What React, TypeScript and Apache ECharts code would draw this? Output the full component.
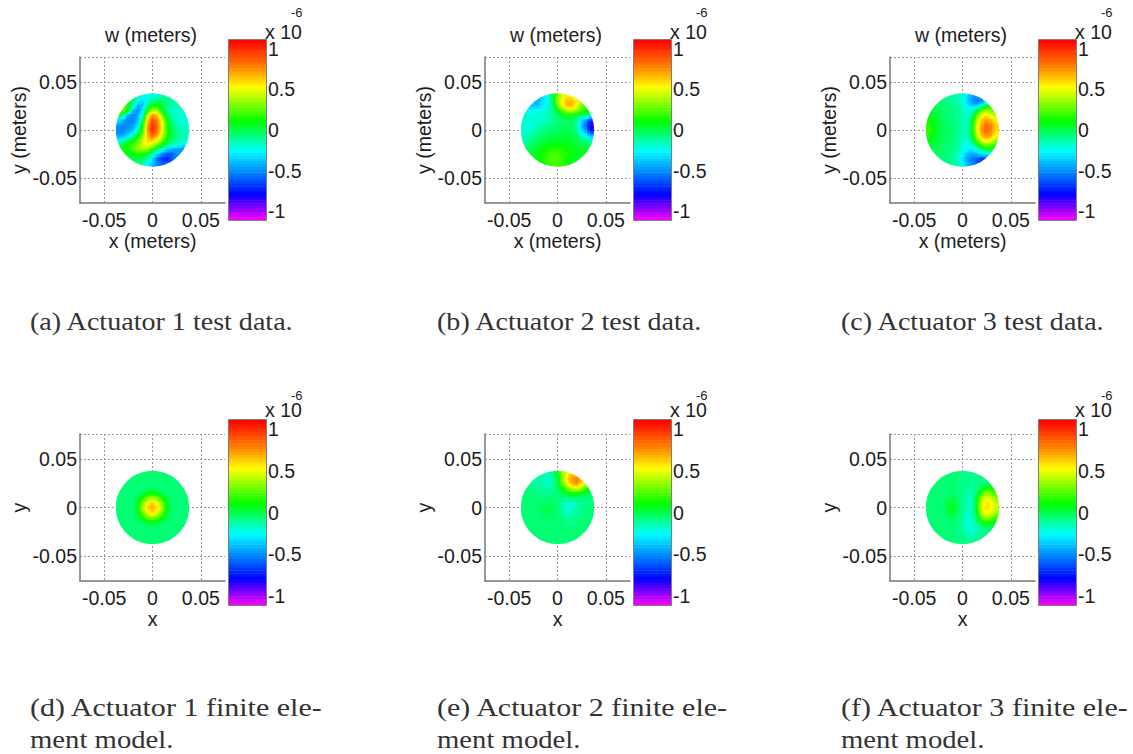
import React, { useEffect, useRef } from "react";
import * as echarts from "echarts";

// Surface readings, 1e-6 m. Rows y = +0.035 .. -0.035, columns x = -0.035 .. 0.035, step 0.005.
const nodeCoords = [-0.035, -0.03, -0.025, -0.02, -0.015, -0.01, -0.005, 0, 0.005, 0.01, 0.015, 0.02, 0.025, 0.03, 0.035];
const panelA = [
  [.1,.1,.05,0,-.1,-.22,-.22,-.22,-.18,-.13,-.1,-.1,-.1,-.1,-.1],
  [.2,.15,.05,-.05,-.28,-.36,-.22,-.08,-.03,-.03,-.08,-.12,-.12,-.12,-.12],
  [.3,.25,.15,-.1,-.45,-.36,-.08,.12,.14,.02,-.08,-.14,-.15,-.15,-.15],
  [.3,.3,.05,-.4,-.5,-.3,.12,.42,.38,.14,-.08,-.18,-.2,-.2,-.2],
  [.1,-.1,-.45,-.52,-.45,-.15,.45,.78,.7,.35,.03,-.13,-.18,-.2,-.2],
  [-.3,-.45,-.52,-.52,-.4,-.05,.6,.95,.8,.5,.14,-.08,-.18,-.2,-.2],
  [-.48,-.52,-.52,-.48,-.3,.12,.7,1.02,.85,.55,.2,-.03,-.13,-.18,-.2],
  [-.52,-.52,-.48,-.4,-.15,.18,.72,1.02,.85,.55,.2,.02,-.08,-.14,-.15],
  [-.48,-.45,-.35,-.2,.02,.3,.68,.9,.75,.48,.18,.02,-.08,-.14,-.15],
  [-.3,-.22,-.08,.07,.22,.42,.62,.7,.55,.33,.12,-.03,-.08,-.14,-.15],
  [-.13,.02,.12,.22,.32,.48,.56,.47,.32,.13,-.03,-.13,-.18,-.23,-.28],
  [.1,.12,.17,.22,.32,.37,.36,.18,-.02,-.17,-.32,-.42,-.46,-.46,-.46],
  [.06,.06,.06,.12,.17,.17,.07,-.12,-.32,-.5,-.6,-.6,-.5,-.46,-.46],
  [0,0,0,.02,.02,-.03,-.13,-.32,-.55,-.7,-.75,-.62,-.55,-.5,-.5],
  [-.1,-.1,-.1,-.08,-.08,-.13,-.23,-.38,-.5,-.6,-.58,-.58,-.5,-.5,-.5],
];
const panelB = [
  [-.38,-.38,-.38,-.38,-.33,-.22,-.03,.3,.48,.55,.55,.45,.42,.4,.4],
  [-.38,-.38,-.38,-.42,-.33,-.22,-.08,.35,.55,.68,.7,.58,.42,.32,.3],
  [-.38,-.38,-.38,-.38,-.28,-.22,-.08,.25,.5,.65,.68,.52,.3,.22,.2],
  [-.26,-.26,-.26,-.22,-.22,-.18,-.1,.04,.25,.4,.45,.35,.22,.12,.1],
  [-.17,-.18,-.2,-.2,-.18,-.15,-.1,-.05,.03,.08,.08,.03,-.03,-.08,-.18],
  [-.18,-.2,-.2,-.2,-.17,-.15,-.1,-.07,-.04,-.03,-.03,-.08,-.32,-.52,-.7],
  [-.2,-.2,-.18,-.16,-.13,-.1,-.07,-.05,-.03,-.02,-.04,-.12,-.38,-.58,-.85],
  [-.2,-.18,-.15,-.11,-.08,-.06,-.04,-.02,-.01,0,-.02,-.1,-.32,-.52,-.8],
  [-.18,-.16,-.11,-.08,-.05,-.02,0,.01,.03,.03,0,-.05,-.18,-.32,-.48],
  [-.16,-.12,-.07,-.04,0,.03,.04,.05,.05,.05,.03,0,-.05,-.12,-.18],
  [-.12,-.07,-.02,.01,.05,.08,.1,.11,.1,.08,.06,.03,0,-.02,-.05],
  [-.03,-.03,.03,.06,.1,.13,.16,.16,.15,.13,.1,.08,.05,.04,.04],
  [.05,.05,.05,.08,.13,.18,.23,.23,.18,.15,.11,.08,.05,.05,.05],
  [.08,.08,.08,.09,.15,.21,.25,.23,.18,.13,.08,.05,.05,.05,.05],
  [.1,.1,.1,.1,.12,.18,.23,.23,.18,.13,.08,.05,.05,.05,.05],
];
const panelC = [
  [-.1,-.1,-.1,-.12,-.12,-.12,-.15,-.2,-.3,-.45,-.5,-.5,-.45,-.4,-.4],
  [-.05,-.05,-.05,-.07,-.08,-.1,-.12,-.2,-.35,-.5,-.55,-.5,-.3,-.1,-.1],
  [0,0,-.03,-.05,-.07,-.08,-.1,-.17,-.28,-.35,-.35,-.2,.05,.12,.12],
  [.03,.03,-.02,-.04,-.06,-.07,-.1,-.15,-.2,-.18,0,.3,.4,.35,.25],
  [.08,.05,0,-.03,-.05,-.07,-.09,-.13,-.18,-.08,.25,.52,.58,.5,.4],
  [.12,.08,.02,-.02,-.04,-.06,-.09,-.13,-.16,.03,.4,.65,.75,.68,.55],
  [.17,.1,.03,-.01,-.04,-.06,-.09,-.14,-.16,.08,.48,.72,.85,.78,.6],
  [.2,.12,.04,0,-.03,-.05,-.09,-.14,-.16,.08,.48,.74,.88,.8,.6],
  [.17,.1,.03,-.01,-.03,-.05,-.09,-.15,-.17,.05,.44,.7,.8,.72,.55],
  [.12,.07,.02,-.02,-.04,-.06,-.1,-.16,-.19,-.05,.28,.52,.62,.55,.4],
  [.05,.03,0,-.03,-.05,-.07,-.11,-.18,-.24,-.16,.04,.25,.35,.3,.2],
  [0,0,-.02,-.04,-.06,-.08,-.12,-.2,-.28,-.3,-.18,-.03,.05,.03,0],
  [-.03,-.03,-.03,-.05,-.07,-.09,-.14,-.25,-.38,-.42,-.4,-.3,-.25,-.2,-.2],
  [-.05,-.05,-.05,-.06,-.08,-.1,-.17,-.3,-.45,-.55,-.6,-.7,-.7,-.7,-.7],
  [-.07,-.07,-.07,-.08,-.08,-.1,-.15,-.25,-.4,-.5,-.6,-.7,-.7,-.7,-.7],
];
const panelD = [
  [-.07,-.07,-.07,-.07,-.07,-.07,-.07,-.07,-.07,-.07,-.07,-.07,-.07,-.07,-.07],
  [-.07,-.07,-.07,-.07,-.07,-.07,-.07,-.07,-.07,-.07,-.07,-.07,-.07,-.07,-.07],
  [-.07,-.07,-.07,-.07,-.07,-.07,-.07,-.07,-.07,-.07,-.07,-.07,-.07,-.07,-.07],
  [-.07,-.07,-.07,-.07,-.07,-.07,-.05,-.03,-.05,-.07,-.07,-.07,-.07,-.07,-.07],
  [-.07,-.07,-.07,-.07,-.05,0,.06,.1,.06,0,-.05,-.07,-.07,-.07,-.07],
  [-.07,-.07,-.07,-.07,0,.14,.3,.38,.3,.14,0,-.07,-.07,-.07,-.07],
  [-.07,-.07,-.07,-.05,.06,.3,.5,.6,.5,.3,.06,-.05,-.07,-.07,-.07],
  [-.07,-.07,-.07,-.03,.1,.38,.6,.72,.6,.38,.1,-.03,-.07,-.07,-.07],
  [-.07,-.07,-.07,-.05,.06,.3,.5,.6,.5,.3,.06,-.05,-.07,-.07,-.07],
  [-.07,-.07,-.07,-.07,0,.14,.3,.38,.3,.14,0,-.07,-.07,-.07,-.07],
  [-.07,-.07,-.07,-.07,-.05,0,.06,.1,.06,0,-.05,-.07,-.07,-.07,-.07],
  [-.07,-.07,-.07,-.07,-.07,-.07,-.05,-.03,-.05,-.07,-.07,-.07,-.07,-.07,-.07],
  [-.07,-.07,-.07,-.07,-.07,-.07,-.07,-.07,-.07,-.07,-.07,-.07,-.07,-.07,-.07],
  [-.07,-.07,-.07,-.07,-.07,-.07,-.07,-.07,-.07,-.07,-.07,-.07,-.07,-.07,-.07],
  [-.07,-.07,-.07,-.07,-.07,-.07,-.07,-.07,-.07,-.07,-.07,-.07,-.07,-.07,-.07],
];
const panelE = [
  [-.15,-.15,-.15,-.15,-.15,-.15,-.1,.05,.35,.52,.62,.65,.58,.48,.4],
  [-.1,-.1,-.1,-.13,-.15,-.17,-.14,0,.35,.58,.75,.82,.68,.45,.3],
  [-.1,-.1,-.1,-.12,-.15,-.16,-.13,-.02,.28,.5,.7,.78,.62,.4,.22],
  [-.07,-.07,-.08,-.1,-.12,-.13,-.1,-.04,.12,.3,.45,.5,.38,.2,.1],
  [-.06,-.06,-.07,-.08,-.09,-.1,-.08,-.05,0,.08,.16,.18,.1,.03,-.02],
  [-.05,-.05,-.05,-.05,-.06,-.06,-.05,-.06,-.07,-.08,-.06,-.05,-.06,-.07,-.07],
  [-.04,-.04,-.04,-.04,-.03,-.02,-.03,-.06,-.12,-.17,-.18,-.13,-.09,-.08,-.07],
  [-.05,-.05,-.04,-.03,-.02,0,0,-.05,-.13,-.2,-.2,-.13,-.09,-.07,-.07],
  [-.06,-.06,-.05,-.04,-.02,0,-.01,-.05,-.11,-.16,-.16,-.12,-.08,-.07,-.07],
  [-.07,-.07,-.06,-.05,-.04,-.03,-.03,-.05,-.08,-.11,-.11,-.09,-.07,-.07,-.07],
  [-.07,-.07,-.07,-.06,-.06,-.05,-.05,-.06,-.07,-.08,-.08,-.07,-.07,-.07,-.07],
  [-.07,-.07,-.07,-.07,-.07,-.06,-.06,-.07,-.07,-.07,-.07,-.07,-.07,-.07,-.07],
  [-.07,-.07,-.07,-.07,-.07,-.07,-.07,-.07,-.07,-.07,-.07,-.07,-.07,-.07,-.07],
  [-.07,-.07,-.07,-.07,-.07,-.07,-.07,-.07,-.07,-.07,-.07,-.07,-.07,-.07,-.07],
  [-.07,-.07,-.07,-.07,-.07,-.07,-.07,-.07,-.07,-.07,-.07,-.07,-.07,-.07,-.07],
];
const panelF = [
  [-.07,-.07,-.07,-.07,-.07,-.07,-.07,-.08,-.09,-.09,-.09,-.08,-.07,-.07,-.07],
  [-.07,-.07,-.07,-.07,-.07,-.07,-.07,-.08,-.09,-.1,-.1,-.08,-.07,-.07,-.07],
  [-.07,-.07,-.07,-.07,-.07,-.07,-.07,-.08,-.1,-.11,-.1,-.07,-.04,-.02,-.02],
  [-.07,-.07,-.07,-.07,-.07,-.07,-.07,-.08,-.1,-.12,-.07,.02,.1,.14,.1],
  [-.07,-.07,-.07,-.07,-.06,-.05,-.06,-.09,-.13,-.14,-.04,.2,.34,.3,.18],
  [-.07,-.07,-.07,-.05,-.03,0,-.04,-.1,-.14,-.15,.04,.38,.5,.45,.34],
  [-.07,-.07,-.06,-.04,0,.07,-.02,-.1,-.15,-.16,.08,.47,.58,.55,.42],
  [-.07,-.07,-.05,-.03,.02,.1,0,-.1,-.16,-.16,.1,.5,.6,.56,.44],
  [-.07,-.07,-.06,-.04,0,.06,-.02,-.1,-.17,-.17,.07,.44,.55,.5,.38],
  [-.07,-.07,-.07,-.05,-.04,-.01,-.05,-.11,-.18,-.18,-.01,.28,.4,.33,.22],
  [-.07,-.07,-.07,-.06,-.05,-.05,-.07,-.12,-.19,-.2,-.08,.08,.18,.13,.05],
  [-.07,-.07,-.07,-.07,-.06,-.06,-.08,-.12,-.2,-.2,-.13,-.06,-.01,0,0],
  [-.07,-.07,-.07,-.07,-.07,-.07,-.08,-.1,-.18,-.2,-.15,-.12,-.1,-.08,-.07],
  [-.07,-.07,-.07,-.07,-.07,-.07,-.07,-.09,-.12,-.13,-.11,-.09,-.08,-.07,-.07],
  [-.07,-.07,-.07,-.07,-.07,-.07,-.07,-.08,-.09,-.09,-.08,-.07,-.07,-.07,-.07],
];

const plotTickLabels = [-0.05, 0, 0.05];
const plotTickLines = [-0.05, 0, 0.05];
const colorbarTicks = [-1, -0.5, 0, 0.5, 1];
const colorStops: [number, number[]][] = [
  [-1.11, [255, 0, 255]],
  [-0.79, [0, 0, 255]],
  [-0.53, [0, 128, 255]],
  [-0.25, [0, 255, 255]],
  [0.11, [0, 255, 0]],
  [0.53, [255, 255, 0]],
  [0.79, [255, 128, 0]],
  [1.11, [255, 0, 0]],
];
const titleText = "w (meters)";
const exponentBase = "x 10";
const exponentPower = "-6";
const panelValues = [panelA, panelB, panelC, panelD, panelE, panelF];
const xNames = ["x (meters)", "x (meters)", "x (meters)", "x", "x", "x"];
const yNames = ["y (meters)", "y (meters)", "y (meters)", "y", "y", "y"];
const captions = [
  ["(a) Actuator 1 test data."],
  ["(b) Actuator 2 test data."],
  ["(c) Actuator 3 test data."],
  ["(d) Actuator 1 finite ele-", "ment model."],
  ["(e) Actuator 2 finite ele-", "ment model."],
  ["(f) Actuator 3 finite ele-", "ment model."],
];

const LEVELS = 64;
const RANGE = 1.11;
const DISC_R = 0.0378;
const STEP = 0.005;
const SUB = 3;
const SANS = "'Liberation Sans', Arial, sans-serif";
const SERIF = "'Liberation Serif', 'Times New Roman', serif";
const INK = "#1c1c1c";
const DOTS = { type: [2, 2], color: "#999", width: 1 };

function colorOf(raw: number): string {
  const lv = Math.round(((Math.max(-RANGE, Math.min(RANGE, raw)) + RANGE) / (2 * RANGE)) * (LEVELS - 1));
  const v = -RANGE + ((lv + 0.5) / LEVELS) * 2 * RANGE;
  for (let k = 0; k < colorStops.length - 1; k++) {
    const [a, ca] = colorStops[k];
    const [b, cb] = colorStops[k + 1];
    if (v <= b) {
      const t = (v - a) / (b - a);
      const c = ca.map((p, n) => Math.round(p + (cb[n] - p) * t));
      return `rgb(${c[0]},${c[1]},${c[2]})`;
    }
  }
  return "rgb(255,0,0)";
}

// Gouraud-like shading of the read matrix, as a surface plot with interpolated shading does.
function shade(m: number[][], x: number, y: number): number {
  const n = nodeCoords.length - 1;
  const fi = Math.max(0, Math.min(n, (x - nodeCoords[0]) / STEP));
  const fj = Math.max(0, Math.min(n, (nodeCoords[n] - y) / STEP));
  const i0 = Math.min(n - 1, Math.floor(fi));
  const j0 = Math.min(n - 1, Math.floor(fj));
  const a = fi - i0;
  const b = fj - j0;
  return (
    m[j0][i0] * (1 - a) * (1 - b) + m[j0][i0 + 1] * a * (1 - b) + m[j0 + 1][i0] * (1 - a) * b + m[j0 + 1][i0 + 1] * a * b
  );
}

function surfaceItem(m: number[][]) {
  return (_p: any, api: any) => {
    const x = api.value(0);
    const y = api.value(1);
    const half = STEP * 0.5 * (Math.abs(x) > 0.034 || Math.abs(y) > 0.034 ? 1.3 : 1);
    const c = api.coord([0, 0]);
    const e = api.coord([DISC_R, 0]);
    const children: any[] = [];
    for (let a = 0; a < SUB; a++) {
      for (let b = 0; b < SUB; b++) {
        const x0 = x - half + (2 * half * a) / SUB;
        const x1 = x - half + (2 * half * (a + 1)) / SUB;
        const y1 = y + half - (2 * half * b) / SUB;
        const y0 = y + half - (2 * half * (b + 1)) / SUB;
        const p0 = api.coord([x0, y1]);
        const p1 = api.coord([x1, y0]);
        children.push({
          type: "rect",
          shape: { x: p0[0] - 0.2, y: p0[1] - 0.2, width: p1[0] - p0[0] + 0.6, height: p1[1] - p0[1] + 0.6 },
          style: { fill: colorOf(shade(m, (x0 + x1) / 2, (y0 + y1) / 2)) },
        });
      }
    }
    return {
      type: "group",
      clipPath: { type: "circle", shape: { cx: c[0], cy: c[1], r: e[0] - c[0] } },
      children,
    };
  };
}

function colorbarItem(_p: any, api: any) {
  const v = api.value(1);
  const h = (2 * RANGE) / LEVELS;
  const p0 = api.coord([0, v + h / 2]);
  const p1 = api.coord([1, v - h / 2]);
  return {
    type: "rect",
    shape: { x: p0[0], y: p0[1], width: p1[0] - p0[0], height: p1[1] - p0[1] + 0.5 },
    style: { fill: colorOf(v) },
  };
}

function buildOption() {
  const grid: any[] = [];
  const xAxis: any[] = [];
  const yAxis: any[] = [];
  const series: any[] = [];
  const graphic: any[] = [];
  const DX = 405;
  const layout = [
    { top: 57, h: 146, barTop: 40, barH: 180, yN: 236, capY: [321], capW: [1.08], baseDy: -8, powDy: -28 },
    { top: 434, h: 147, barTop: 420, barH: 185, yN: 615, capY: [707, 739], capW: [1.155, 1.105], baseDy: -10, powDy: -25 },
  ];
  const cells: number[][] = [];
  nodeCoords.forEach((y) =>
    nodeCoords.forEach((x) => {
      if (Math.hypot(x, y) < DISC_R + STEP) cells.push([x, y]);
    })
  );
  const levels = Array.from({ length: LEVELS }, (_, k) => -RANGE + ((k + 0.5) / LEVELS) * 2 * RANGE);

  panelValues.forEach((m, p) => {
    const col = p % 3;
    const L = layout[p < 3 ? 0 : 1];
    const left = 80 + DX * col;
    const barLeft = 229 + DX * col;
    const gi = grid.length;
    grid.push({ left, top: L.top, width: 145, height: L.h });
    xAxis.push({
      type: "value",
      gridIndex: gi,
      min: -0.075,
      max: 0.075,
      position: "bottom",
      axisLine: { show: true, onZero: false, lineStyle: { color: "#777", width: 1.5 } },
      axisTick: { show: false, customValues: plotTickLines },
      axisLabel: {
        customValues: plotTickLabels,
        margin: 7,
        fontFamily: SANS,
        fontSize: 19.5,
        color: INK,
        hideOverlap: false,
        showMinLabel: true,
        showMaxLabel: true,
      },
      splitLine: { show: true, lineStyle: DOTS },
      name: xNames[p],
      nameLocation: "middle",
      nameGap: L.yN - (L.top + L.h),
      nameTextStyle: { fontFamily: SANS, fontSize: 19.5, color: INK, verticalAlign: "middle" },
    });
    yAxis.push({
      type: "value",
      gridIndex: gi,
      min: -0.076,
      max: 0.076,
      position: "left",
      axisLine: { show: true, onZero: false, lineStyle: { color: "#777", width: 1.5 } },
      axisTick: { show: false, customValues: [...plotTickLines, 0.076] },
      axisLabel: {
        customValues: plotTickLabels,
        margin: 3,
        fontFamily: SANS,
        fontSize: 19.5,
        color: INK,
      },
      splitLine: { show: true, lineStyle: DOTS },
      name: yNames[p],
      nameLocation: "middle",
      nameGap: 60,
      nameRotate: 90,
      nameTextStyle: { fontFamily: SANS, fontSize: 19.5, color: INK, verticalAlign: "middle" },
    });
    series.push({
      type: "custom",
      xAxisIndex: gi,
      yAxisIndex: gi,
      coordinateSystem: "cartesian2d",
      silent: true,
      clip: false,
      data: cells.map(([x, y]) => [x, y]),
      encode: { x: 0, y: 1 },
      renderItem: surfaceItem(m),
    });

    const bi = grid.length;
    grid.push({ left: barLeft, top: L.barTop, width: 37, height: L.barH });
    xAxis.push({ type: "value", gridIndex: bi, min: 0, max: 1, show: false });
    yAxis.push({
      type: "value",
      gridIndex: bi,
      min: -RANGE,
      max: RANGE,
      position: "right",
      axisLine: { show: false },
      axisTick: { show: false, customValues: colorbarTicks },
      splitLine: { show: false },
      axisLabel: {
        customValues: colorbarTicks,
        margin: 2,
        fontFamily: SANS,
        fontSize: 19.5,
        color: INK,
      },
    });
    series.push({
      type: "custom",
      xAxisIndex: bi,
      yAxisIndex: bi,
      coordinateSystem: "cartesian2d",
      silent: true,
      data: levels.map((v) => [0.5, v]),
      encode: { x: 0, y: 1 },
      renderItem: colorbarItem,
    });
    graphic.push({
      type: "rect",
      shape: { x: barLeft - 0.5, y: L.barTop - 0.5, width: 38, height: L.barH + 1 },
      style: { fill: "none", stroke: "#7d7d7d", lineWidth: 1 },
      silent: true,
      z: 10,
    });
    graphic.push({
      type: "text",
      x: barLeft + 36,
      y: L.barTop + L.baseDy,
      style: { text: exponentBase, font: `19.5px ${SANS}`, fill: INK, textVerticalAlign: "middle" },
      z: 10,
    });
    graphic.push({
      type: "text",
      x: barLeft + 62,
      y: L.barTop + L.powDy,
      style: { text: exponentPower, font: `13px ${SANS}`, fill: INK, textVerticalAlign: "middle" },
      z: 10,
    });
    if (p < 3) {
      graphic.push({
        type: "text",
        x: left + 71,
        y: 35,
        style: { text: titleText, font: `19.5px ${SANS}`, fill: INK, textAlign: "center", textVerticalAlign: "middle" },
        z: 10,
      });
    }
    captions[p].forEach((line, n) => {
      graphic.push({
        type: "text",
        x: 30 + [0, 407, 811][col],
        y: L.capY[n],
        scaleX: L.capW[n],
        style: { text: line, font: `26px ${SERIF}`, fill: "#333", textVerticalAlign: "middle" },
        z: 10,
      });
    });
  });
  return { animation: false, backgroundColor: "#fff", grid, xAxis, yAxis, series, graphic };
}

export default function App() {
  const ref = useRef<HTMLDivElement>(null);
  useEffect(() => {
    document.body.style.margin = "0";
    const chart = echarts.init(ref.current!, undefined, { renderer: "svg" });
    chart.setOption(buildOption() as any);
    return () => chart.dispose();
  }, []);
  return <div ref={ref} style={{ width: 1133, height: 754 }} />;
}
